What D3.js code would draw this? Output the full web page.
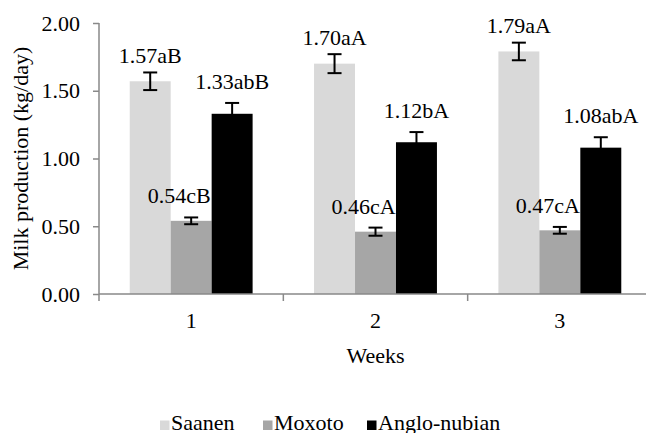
<!DOCTYPE html>
<html>
<head>
<meta charset="utf-8">
<script src="https://cdn.jsdelivr.net/npm/d3@7"></script>
</head>
<body style="margin:0">
<div id="chart"></div>
<script>
// chart values
const weeks = ["1", "2", "3"];
const series = ["Saanen", "Moxoto", "Anglo-nubian"];
const saanen = [1.57, 1.70, 1.79];
const moxoto = [0.54, 0.46, 0.47];
const angloNubian = [1.33, 1.12, 1.08];
const saanenErr = [0.065, 0.07, 0.065];
const moxotoErr = [0.025, 0.03, 0.025];
const angloNubianErr = [0.08, 0.075, 0.077];
const saanenLabels = ["1.57aB", "1.70aA", "1.79aA"];
const moxotoLabels = ["0.54cB", "0.46cA", "0.47cA"];
const angloNubianLabels = ["1.33abB", "1.12bA", "1.08abA"];
const yTicks = [0, 0.5, 1, 1.5, 2];

const values = [saanen, moxoto, angloNubian];
const errors = [saanenErr, moxotoErr, angloNubianErr];
const labels = [saanenLabels, moxotoLabels, angloNubianLabels];

const mLeft = 99, mRight = 652, mTop = 23, mBottom = 294;

let svg = d3.select("#chart")
  .append("svg")
    .attr("width", 646)
    .attr("height", 433);

function serif(sel) {
  return sel.style("font-family", "'Liberation Serif'").style("font-size", "22px").attr("fill", "#000");
}

// scales
let x = d3.scaleBand()
    .domain(weeks)
    .range([mLeft, mRight])
    .padding(0);
let w = x.bandwidth() / 4.5;
let xSub = d3.scaleBand()
    .domain(series)
    .range([0.75 * w, 3.75 * w])
    .padding(0);
let y = d3.scaleLinear()
    .domain([0, 2])
    .range([mBottom, mTop]);
let color = d3.scaleOrdinal()
    .domain(series)
    .range(["#d9d9d9", "#a6a6a6", "#000000"]);

const axisColor = "#898989";

// y axis
let yAxis = svg.append("g")
  .attr("transform", "translate(" + mLeft + ",0)")
  .call(d3.axisLeft(y).tickValues(yTicks).tickFormat(d3.format(".2f")).tickSize(6).tickPadding(13));
yAxis.attr("font-family", null).attr("font-size", null);
yAxis.select(".domain").attr("stroke", axisColor).attr("stroke-width", 1.5).attr("d", "M0," + mTop + "V" + mBottom);
yAxis.selectAll(".tick line").attr("stroke", axisColor).attr("stroke-width", 1.5);
serif(yAxis.selectAll(".tick text"));

// bars
let rows = [];
series.forEach(function(s, i) {
  weeks.forEach(function(wk, j) {
    rows.push({ s: s, i: i, week: wk, v: values[i][j], e: errors[i][j], label: labels[i][j] });
  });
});

svg.append("g")
  .selectAll("rect")
  .data(rows)
  .enter().append("rect")
    .attr("x", function(d) { return x(d.week) + xSub(d.s); })
    .attr("y", function(d) { return y(d.v); })
    .attr("width", xSub.bandwidth())
    .attr("height", function(d) { return mBottom - y(d.v); })
    .attr("fill", function(d) { return color(d.s); });

// x axis
let xAxis = svg.append("g");
xAxis.append("line")
  .attr("x1", mLeft).attr("x2", mRight)
  .attr("y1", mBottom).attr("y2", mBottom)
  .attr("stroke", axisColor).attr("stroke-width", 1.5);
xAxis.selectAll("line.bound")
  .data(weeks.concat(["end"]))
  .enter().append("line")
    .attr("class", "bound")
    .attr("x1", function(d) { return d === "end" ? mRight : x(d); })
    .attr("x2", function(d) { return d === "end" ? mRight : x(d); })
    .attr("y1", mBottom).attr("y2", mBottom + 7)
    .attr("stroke", axisColor).attr("stroke-width", 1.5);
serif(xAxis.selectAll("text.wk")
  .data(weeks)
  .enter().append("text")
    .attr("class", "wk")
    .attr("x", function(d) { return x(d) + x.bandwidth() / 2; })
    .attr("y", 328)
    .attr("text-anchor", "middle")
    .text(function(d) { return d; }));

// error bars
let cap = 7;
let eb = svg.append("g").attr("stroke", "#000").attr("stroke-width", 2);
rows.forEach(function(d) {
  let cx = x(d.week) + xSub(d.s) + xSub.bandwidth() / 2;
  eb.append("line").attr("x1", cx).attr("x2", cx).attr("y1", y(d.v - d.e)).attr("y2", y(d.v + d.e));
  eb.append("line").attr("x1", cx - cap).attr("x2", cx + cap).attr("y1", y(d.v + d.e)).attr("y2", y(d.v + d.e));
  eb.append("line").attr("x1", cx - cap).attr("x2", cx + cap).attr("y1", y(d.v - d.e)).attr("y2", y(d.v - d.e));
});

// value labels
serif(svg.append("g")
  .selectAll("text")
  .data(rows)
  .enter().append("text")
    .attr("x", function(d) {
      let cx = x(d.week) + xSub(d.s) + xSub.bandwidth() / 2;
      return d.i === 1 ? cx - 12 : cx;
    })
    .attr("y", function(d) { return y(d.v + d.e) - (d.i === 0 ? 9.5 : 14); })
    .attr("text-anchor", "middle")
    .text(function(d) { return d.label; }));

// axis titles
serif(svg.append("text")
  .attr("x", (mLeft + mRight) / 2)
  .attr("y", 363)
  .attr("text-anchor", "middle")
  .text("Weeks"));
serif(svg.append("text")
  .attr("transform", "translate(28," + ((mTop + mBottom) / 2) + ") rotate(-90)")
  .attr("text-anchor", "middle")
  .text("Milk production (kg/day)"));

// legend
let legX = [160, 263, 367];
let leg = svg.append("g")
  .selectAll("g")
  .data(series)
  .enter().append("g")
    .attr("transform", function(d, i) { return "translate(" + legX[i] + ",0)"; });
leg.append("rect")
  .attr("x", 0).attr("y", 420.5)
  .attr("width", 9.5).attr("height", 9.5)
  .attr("fill", function(d) { return color(d); });
serif(leg.append("text")
  .attr("x", 11)
  .attr("y", 430)
  .text(function(d) { return d; }));
</script>
</body>
</html>
